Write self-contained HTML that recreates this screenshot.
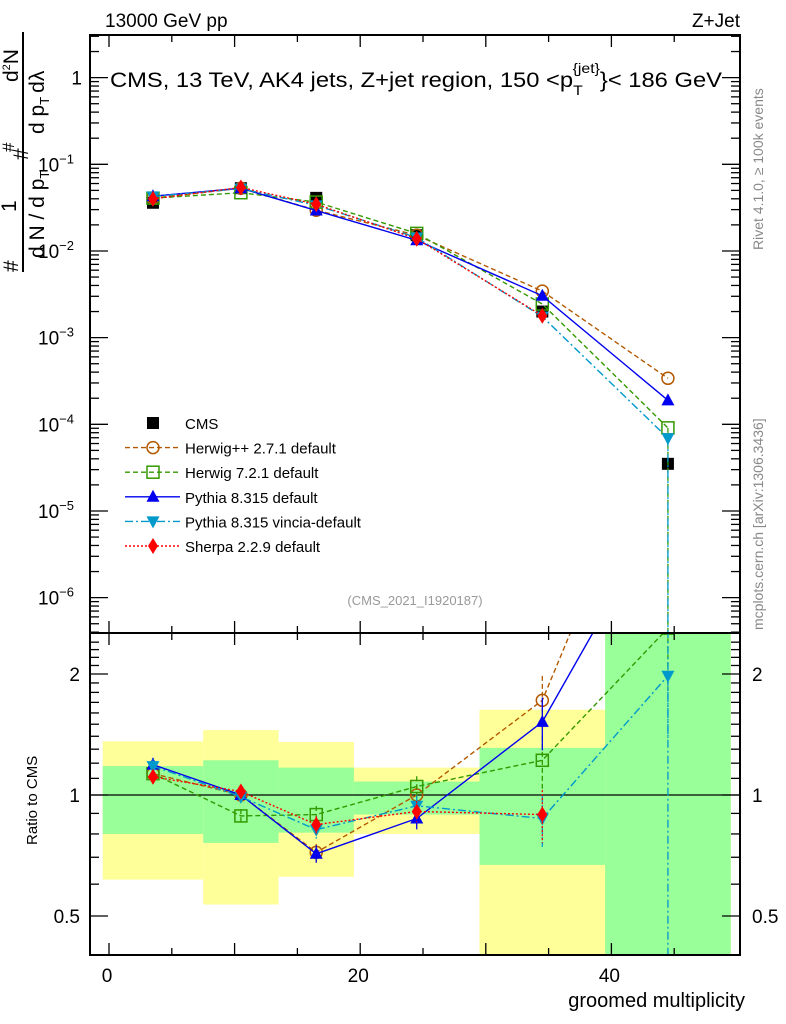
<!DOCTYPE html>
<html><head><meta charset="utf-8">
<style>
html,body{margin:0;padding:0;background:#fff;}
svg{display:block;font-family:"Liberation Sans",sans-serif;}
</style></head>
<body>
<svg id="chart" width="786" height="1024" viewBox="0 0 786 1024" xmlns="http://www.w3.org/2000/svg">
<g id="bands"></g>
<g id="grid"></g>
<g id="series"></g>
<g id="axes"></g>
<g id="labels">
<text x="105" y="27" font-size="19">13000 GeV pp</text>
<text x="740" y="27" font-size="19" text-anchor="end">Z+Jet</text>
<text x="110" y="87" font-size="21" textLength="612" lengthAdjust="spacingAndGlyphs">CMS, 13 TeV, AK4 jets, Z+jet region, 150 &lt;p<tspan font-size="14" dy="8">T</tspan><tspan font-size="14" dy="-22" dx="-9">{jet}</tspan><tspan dy="14">}&lt; 186 GeV</tspan></text>
<text x="415" y="605" font-size="13" fill="#999" text-anchor="middle">(CMS_2021_I1920187)</text>
<text transform="translate(763,250) rotate(-90)" font-size="14" fill="#888">Rivet 4.1.0, ≥ 100k events</text>
<text transform="translate(763,630) rotate(-90)" font-size="14" fill="#888">mcplots.cern.ch [arXiv:1306.3436]</text>
<text x="745" y="1007" font-size="20" text-anchor="end">groomed multiplicity</text>
<text transform="translate(37,845) rotate(-90)" font-size="15">Ratio to CMS</text>
<g transform="translate(0,272) rotate(-90)" font-size="21">
<text x="0" y="18">#</text>
<text x="60" y="16">1</text>
<line x1="0" y1="23" x2="240" y2="23" stroke="#000" stroke-width="2"/>
<text x="14" y="44">d N / d p<tspan font-size="13" dy="5">T</tspan></text>
<text x="112" y="28">#</text>
<text x="138" y="44">d p<tspan font-size="13" dy="5">T</tspan><tspan dy="-5" dx="4">dλ</tspan></text>
<text x="190" y="18">d<tspan font-size="11" dy="-8">2</tspan><tspan dy="8">N</tspan></text>
<text x="120" y="14" font-size="17">#</text>
</g>
</g>
<g id="legend"></g>
</svg>
<script>
// ---- data ----
const binEdges = [-0.5, 7.5, 13.5, 19.5, 29.5, 39.5, 49.5];
const binCenters = [3.5, 10.5, 16.5, 24.5, 34.5, 44.5];
const cmsValues = [0.036, 0.053, 0.041, 0.0152, 0.0020, 0.000035];
const statHi = [1.18, 1.22, 1.17, 1.08, 1.31, 3.0];
const statLo = [0.80, 0.76, 0.806, 0.894, 0.67, 0.3];
const totHi = [1.36, 1.45, 1.355, 1.17, 1.63, 3.0];
const totLo = [0.616, 0.534, 0.626, 0.80, 0.3, 0.3];
const herwigppRatio = [1.13, 1.0, 0.72, 1.0, 1.72, 9.7];
const herwig7Ratio = [1.13, 0.887, 0.894, 1.05, 1.22, 2.6];
const pythiaRatio = [1.19, 1.0, 0.714, 0.874, 1.52, 5.4];
const vinciaRatio = [1.18, 0.99, 0.82, 0.94, 0.874, 1.98];
const sherpaRatio = [1.11, 1.02, 0.844, 0.91, 0.894, null];
const ratioErr = [0.04, 0.04, 0.05, 0.06, 0.15, 0.3];
const xTicks = [0, 20, 40];
const ratioTicks = [0.5, 1, 2];
const mainDecades = [0, -1, -2, -3, -4, -5, -6];

// ---- axes ----
const L = 90, R = 740, T = 35, MB = 633, RB = 955;
const X = v => 109 + 12.56 * v;
const Ym = v => 164.3 - 86.67 * (Math.log10(v) + 1);
const Yr = r => 795 - 121 * Math.log2(r);
const NS = "http://www.w3.org/2000/svg";
function mk(tag, attrs, parent) {
  const e = document.createElementNS(NS, tag);
  for (const k in attrs) e.setAttribute(k, attrs[k]);
  parent.appendChild(e); return e;
}
const bands = document.getElementById('bands');
const axes = document.getElementById('axes');
const series = document.getElementById('series');
const legend = document.getElementById('legend');
const clampR = y => Math.max(MB, Math.min(RB, y));

for (let i = 0; i < binCenters.length; i++) {
  const x1 = X(binEdges[i]), x2 = X(binEdges[i + 1]);
  const y1 = clampR(Yr(totHi[i])), y2 = clampR(Yr(totLo[i]));
  const b = mk('rect', {x: x1, y: y1, width: x2 - x1, height: y2 - y1, fill: '#ffff99'}, bands);
  
  
  const s1 = clampR(Yr(statHi[i])), s2 = clampR(Yr(statLo[i]));
  const g = mk('rect', {x: x1, y: s1, width: x2 - x1, height: s2 - s1, fill: '#99ff99'}, bands);
  
  
}
mk('line', {x1: L, y1: Yr(1), x2: R, y2: Yr(1), stroke: '#000', 'stroke-width': 1.3}, bands);

for (const [y1, y2, nm] of [[T, MB, 'main-frame'], [MB, RB, 'ratio-frame']]) {
  const f = mk('rect', {x: L, y: y1, width: R - L, height: y2 - y1, fill: 'none', stroke: '#000', 'stroke-width': 2}, axes);
  
  
}
function tick(x1, y1, x2, y2) { mk('line', {x1, y1, x2, y2, stroke: '#000', 'stroke-width': 1.3}, axes); }
for (let v = 0; v <= 45; v += 5) {
  const len = v % 10 === 0 ? 12 : 7;
  for (const [yb, yt] of [[MB, T], [RB, MB]]) { tick(X(v), yb, X(v), yb - len); tick(X(v), yt, X(v), yt + len); }
}
xTicks.forEach(v => {
  const t = mk('text', {x: X(v) - 2, y: 982, 'font-size': 19, 'text-anchor': 'middle'}, axes);
  t.textContent = v;
  
  
});
for (let d = -7; d <= 0; d++) {
  for (let m = 1; m <= 9; m++) {
    const y = Ym(m * Math.pow(10, d));
    if (y < T || y > MB) continue;
    const len = m === 1 ? 18 : 9;
    tick(L, y, L + len, y); tick(R, y, R - len, y);
  }
}
mainDecades.forEach(d => {
  const t = mk('text', {x: 82, y: Ym(Math.pow(10, d)) + 7, 'font-size': 19, 'text-anchor': 'end'}, axes);
  
  
  if (d === 0) t.textContent = '1';
  else { t.textContent = '10'; const s = mk('tspan', {dy: -8, 'font-size': 13}, t); s.textContent = '−' + (-d); t.setAttribute('text-anchor', 'start'); t.setAttribute('x', 38); }
});
for (let r = 0.4; r <= 2.5; r += 0.1) {
  const y = Yr(r); if (y < MB || y > RB) continue;
  const maj = [0.5, 1, 2].some(v => Math.abs(v - r) < 1e-6);
  const len = maj ? 18 : 9;
  tick(L, y, L + len, y); tick(R, y, R - len, y);
}
ratioTicks.forEach(r => {
  for (const [x, a] of [[80, 'end'], [752, 'start']]) {
    const t = mk('text', {x, y: Yr(r) + 7, 'font-size': 19, 'text-anchor': a}, axes);
    t.textContent = r;
    
    
  }
});

function marker(kind, x, y, color, g) {
  const s = 6;
  if (kind === 'sq') mk('rect', {x: x - s, y: y - s, width: 2 * s, height: 2 * s, fill: '#000'}, g);
  else if (kind === 'osq') mk('rect', {x: x - s, y: y - s, width: 2 * s, height: 2 * s, fill: 'none', stroke: color, 'stroke-width': 1.5}, g);
  else if (kind === 'oc') mk('circle', {cx: x, cy: y, r: s, fill: 'none', stroke: color, 'stroke-width': 1.5}, g);
  else if (kind === 'tu') mk('polygon', {points: `${x},${y - 7} ${x - 6.5},${y + 5} ${x + 6.5},${y + 5}`, fill: color}, g);
  else if (kind === 'td') mk('polygon', {points: `${x},${y + 7} ${x - 6.5},${y - 5} ${x + 6.5},${y - 5}`, fill: color}, g);
  else if (kind === 'dm') mk('polygon', {points: `${x},${y - 8} ${x - 5},${y} ${x},${y + 8} ${x + 5},${y}`, fill: color}, g);
}
const defs = [
  {name: 'herwigpp', label: 'Herwig++ 2.7.1 default', ratio: herwigppRatio, color: '#b35900', dash: '5,3', kind: 'oc'},
  {name: 'herwig7', label: 'Herwig 7.2.1 default', ratio: herwig7Ratio, color: '#339900', dash: '5,3', kind: 'osq'},
  {name: 'pythia', label: 'Pythia 8.315 default', ratio: pythiaRatio, color: '#0000ee', dash: '', kind: 'tu'},
  {name: 'vincia', label: 'Pythia 8.315 vincia-default', ratio: vinciaRatio, color: '#0099cc', dash: '8,3,2,3', kind: 'td'},
  {name: 'sherpa', label: 'Sherpa 2.2.9 default', ratio: sherpaRatio, color: '#ff0000', dash: '2,2', kind: 'dm'}
];

const dfs = mk('defs', {}, document.getElementById('chart'));
const c1 = mk('clipPath', {id: 'clipMain'}, dfs); mk('rect', {x: L, y: T, width: R - L, height: MB - T}, c1);
const c2 = mk('clipPath', {id: 'clipRatio'}, dfs); mk('rect', {x: L, y: MB, width: R - L, height: RB - MB}, c2);

defs.forEach(d => {
  const g = mk('g', {}, series);
  
  
  const gm = mk('g', {'clip-path': 'url(#clipMain)'}, g);
  const gr = mk('g', {'clip-path': 'url(#clipRatio)'}, g);
  const pm = [], pr = [];
  d.ratio.forEach((r, i) => {
    if (r === null) return;
    const x = X(binCenters[i]);
    pm.push([x, Ym(r * cmsValues[i])]);
    pr.push([x, Yr(r)]);
  });
  const st = {fill: 'none', stroke: d.color, 'stroke-width': 1.4};
  if (d.dash) st['stroke-dasharray'] = d.dash;
  mk('polyline', Object.assign({points: pm.map(p => p.join(',')).join(' ')}, st), gm);
  mk('polyline', Object.assign({points: pr.map(p => p.join(',')).join(' ')}, st), gr);
  d.ratio.forEach((r, i) => {
    if (r === null) return;
    const x = X(binCenters[i]);
    const e = ratioErr[i];
    mk('line', {x1: x, y1: Yr(r * (1 + e)), x2: x, y2: Yr(r * (1 - e)), stroke: d.color, 'stroke-width': 1.3, 'stroke-dasharray': d.dash || 'none'}, gr);
    if (i === 5 && (d.name === 'herwig7' || d.name === 'vincia')) mk('line', {x1: x, y1: Ym(r * cmsValues[i]), x2: x, y2: MB, stroke: d.color, 'stroke-width': 1.3, 'stroke-dasharray': d.dash}, gm);
    if (i === 5 && d.name === 'vincia') mk('line', {x1: x, y1: Yr(r), x2: x, y2: RB, stroke: d.color, 'stroke-width': 1.3, 'stroke-dasharray': d.dash}, gr);
    marker(d.kind, x, Ym(r * cmsValues[i]), d.color, gm);
    marker(d.kind, x, Yr(r), d.color, gr);
  });
});
const gc = mk('g', {'clip-path': 'url(#clipMain)'}, series);


cmsValues.forEach((v, i) => marker('sq', X(binCenters[i]), Ym(v), '#000', gc));
series.insertBefore(gc, series.firstChild);

const items = [{label: 'CMS', kind: 'sq', color: '#000', dash: null}].concat(defs);
items.forEach((d, i) => {
  const y = 423 + i * 24.6;
  const g = mk('g', {}, legend);
  
  
  if (d.dash !== null) {
    const st = {x1: 125, y1: y, x2: 180, y2: y, stroke: d.color, 'stroke-width': 1.4};
    if (d.dash) st['stroke-dasharray'] = d.dash;
    mk('line', st, g);
  }
  marker(d.kind, 153, y, d.color, g);
  const t = mk('text', {x: 185, y: y + 6, 'font-size': 15}, g);
  t.textContent = d.label;
});
</script>
</body></html>
